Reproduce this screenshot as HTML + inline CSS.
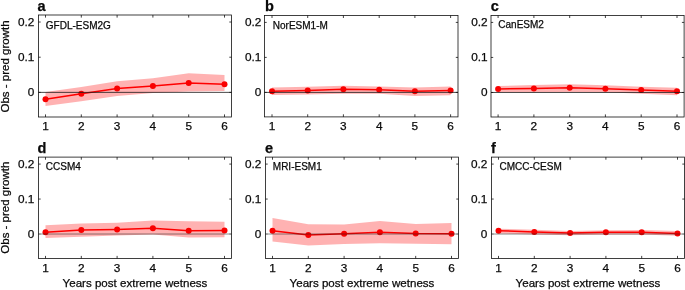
<!DOCTYPE html>
<html><head><meta charset="utf-8"><title>fig</title>
<style>html,body{margin:0;padding:0;background:#fff}body{width:685px;height:290px;overflow:hidden}svg{display:block}text{font-family:"Liberation Sans",sans-serif;fill:#0a0a0a;stroke:#0a0a0a;stroke-width:0.25px;filter:opacity(0.999)}</style></head><body>
<svg width="685" height="290" viewBox="0 0 685 290">
<rect width="685" height="290" fill="#fff"/>
<polygon points="45.5,92.1 81.3,86.9 117.1,81.3 152.9,78.2 188.7,73.3 224.5,75.1 224.5,91.1 188.7,91.6 152.9,93.0 117.1,95.9 81.3,101.3 45.5,106.0" fill="#ff0000" fill-opacity="0.3"/>
<polyline points="45.5,99.3 81.3,93.7 117.1,88.4 152.9,85.9 188.7,83.0 224.5,84.2" fill="none" stroke="#ff0000" stroke-width="1.5" stroke-linejoin="round"/>
<circle cx="45.5" cy="99.3" r="3.0" fill="#f90000"/>
<circle cx="81.3" cy="93.7" r="3.0" fill="#f90000"/>
<circle cx="117.1" cy="88.4" r="3.0" fill="#f90000"/>
<circle cx="152.9" cy="85.9" r="3.0" fill="#f90000"/>
<circle cx="188.7" cy="83.0" r="3.0" fill="#f90000"/>
<circle cx="224.5" cy="84.2" r="3.0" fill="#f90000"/>
<line x1="38.5" y1="92.38" x2="231.5" y2="92.38" stroke="#1a1a1a" stroke-width="0.8"/>
<rect x="38.5" y="15.0" width="193.0" height="102.0" fill="none" stroke="#111" stroke-width="0.8"/>
<path d="M45.5 117.0v-2.6M45.5 15.0v2.6M81.3 117.0v-2.6M81.3 15.0v2.6M117.1 117.0v-2.6M117.1 15.0v2.6M152.9 117.0v-2.6M152.9 15.0v2.6M188.7 117.0v-2.6M188.7 15.0v2.6M224.5 117.0v-2.6M224.5 15.0v2.6M38.5 92.38h2.2M231.5 92.38h-2.2M38.5 57.21h2.2M231.5 57.21h-2.2M38.5 22.03h2.2M231.5 22.03h-2.2" stroke="#111" stroke-width="0.8" fill="none"/>
<text x="45.5" y="130.2" font-size="11.8" text-anchor="middle">1</text>
<text x="81.3" y="130.2" font-size="11.8" text-anchor="middle">2</text>
<text x="117.1" y="130.2" font-size="11.8" text-anchor="middle">3</text>
<text x="152.9" y="130.2" font-size="11.8" text-anchor="middle">4</text>
<text x="188.7" y="130.2" font-size="11.8" text-anchor="middle">5</text>
<text x="224.5" y="130.2" font-size="11.8" text-anchor="middle">6</text>
<text x="34.3" y="96.2" font-size="11.8" text-anchor="end">0</text>
<text x="34.3" y="61.0" font-size="11.8" text-anchor="end">0.1</text>
<text x="34.3" y="25.8" font-size="11.8" text-anchor="end">0.2</text>
<text x="37.6" y="10.8" font-size="14.5" font-weight="bold" fill="#000" stroke="#000" stroke-width="0.3">a</text>
<text x="45.8" y="28.6" font-size="10">GFDL-ESM2G</text>
<text transform="translate(9.3 66.5) rotate(-90)" font-size="11.5" text-anchor="middle">Obs - pred growth</text>
<polygon points="272.0,87.5 307.7,86.8 343.4,85.8 379.2,86.4 414.9,87.5 450.6,86.5 450.6,95.2 414.9,95.9 379.2,93.8 343.4,93.8 307.7,94.5 272.0,94.9" fill="#ff0000" fill-opacity="0.3"/>
<polyline points="272.0,91.2 307.7,90.4 343.4,89.3 379.2,89.7 414.9,91.3 450.6,90.6" fill="none" stroke="#ff0000" stroke-width="1.5" stroke-linejoin="round"/>
<circle cx="272.0" cy="91.2" r="3.0" fill="#f90000"/>
<circle cx="307.7" cy="90.4" r="3.0" fill="#f90000"/>
<circle cx="343.4" cy="89.3" r="3.0" fill="#f90000"/>
<circle cx="379.2" cy="89.7" r="3.0" fill="#f90000"/>
<circle cx="414.9" cy="91.3" r="3.0" fill="#f90000"/>
<circle cx="450.6" cy="90.6" r="3.0" fill="#f90000"/>
<line x1="264.5" y1="92.40" x2="458.0" y2="92.40" stroke="#1a1a1a" stroke-width="0.8"/>
<rect x="264.5" y="15.4" width="193.5" height="101.5" fill="none" stroke="#111" stroke-width="0.8"/>
<path d="M272.0 116.9v-2.6M272.0 15.4v2.6M307.7 116.9v-2.6M307.7 15.4v2.6M343.4 116.9v-2.6M343.4 15.4v2.6M379.2 116.9v-2.6M379.2 15.4v2.6M414.9 116.9v-2.6M414.9 15.4v2.6M450.6 116.9v-2.6M450.6 15.4v2.6M264.5 92.40h2.2M458.0 92.40h-2.2M264.5 57.40h2.2M458.0 57.40h-2.2M264.5 22.40h2.2M458.0 22.40h-2.2" stroke="#111" stroke-width="0.8" fill="none"/>
<text x="272.0" y="130.1" font-size="11.8" text-anchor="middle">1</text>
<text x="307.7" y="130.1" font-size="11.8" text-anchor="middle">2</text>
<text x="343.4" y="130.1" font-size="11.8" text-anchor="middle">3</text>
<text x="379.2" y="130.1" font-size="11.8" text-anchor="middle">4</text>
<text x="414.9" y="130.1" font-size="11.8" text-anchor="middle">5</text>
<text x="450.6" y="130.1" font-size="11.8" text-anchor="middle">6</text>
<text x="261.4" y="96.2" font-size="11.8" text-anchor="end">0</text>
<text x="261.4" y="61.2" font-size="11.8" text-anchor="end">0.1</text>
<text x="261.4" y="26.2" font-size="11.8" text-anchor="end">0.2</text>
<text x="264.9" y="10.6" font-size="14.5" font-weight="bold" fill="#000" stroke="#000" stroke-width="0.3">b</text>
<text x="272.8" y="29.2" font-size="10">NorESM1-M</text>
<polygon points="498.1,86.1 533.9,84.9 569.7,84.2 605.4,85.3 641.2,86.8 677.0,87.8 677.0,95.2 641.2,93.8 605.4,92.3 569.7,92.0 533.9,92.3 498.1,92.3" fill="#ff0000" fill-opacity="0.3"/>
<polyline points="498.1,89.0 533.9,88.4 569.7,87.8 605.4,88.7 641.2,90.0 677.0,91.2" fill="none" stroke="#ff0000" stroke-width="1.5" stroke-linejoin="round"/>
<circle cx="498.1" cy="89.0" r="3.0" fill="#f90000"/>
<circle cx="533.9" cy="88.4" r="3.0" fill="#f90000"/>
<circle cx="569.7" cy="87.8" r="3.0" fill="#f90000"/>
<circle cx="605.4" cy="88.7" r="3.0" fill="#f90000"/>
<circle cx="641.2" cy="90.0" r="3.0" fill="#f90000"/>
<circle cx="677.0" cy="91.2" r="3.0" fill="#f90000"/>
<line x1="491.0" y1="92.48" x2="684.1" y2="92.48" stroke="#1a1a1a" stroke-width="0.8"/>
<rect x="491.0" y="15.4" width="193.1" height="101.6" fill="none" stroke="#111" stroke-width="0.8"/>
<path d="M498.1 117.0v-2.6M498.1 15.4v2.6M533.9 117.0v-2.6M533.9 15.4v2.6M569.7 117.0v-2.6M569.7 15.4v2.6M605.4 117.0v-2.6M605.4 15.4v2.6M641.2 117.0v-2.6M641.2 15.4v2.6M677.0 117.0v-2.6M677.0 15.4v2.6M491.0 92.48h2.2M684.1 92.48h-2.2M491.0 57.44h2.2M684.1 57.44h-2.2M491.0 22.41h2.2M684.1 22.41h-2.2" stroke="#111" stroke-width="0.8" fill="none"/>
<text x="498.1" y="130.2" font-size="11.8" text-anchor="middle">1</text>
<text x="533.9" y="130.2" font-size="11.8" text-anchor="middle">2</text>
<text x="569.7" y="130.2" font-size="11.8" text-anchor="middle">3</text>
<text x="605.4" y="130.2" font-size="11.8" text-anchor="middle">4</text>
<text x="641.2" y="130.2" font-size="11.8" text-anchor="middle">5</text>
<text x="677.0" y="130.2" font-size="11.8" text-anchor="middle">6</text>
<text x="487.6" y="96.3" font-size="11.8" text-anchor="end">0</text>
<text x="487.6" y="61.2" font-size="11.8" text-anchor="end">0.1</text>
<text x="487.6" y="26.2" font-size="11.8" text-anchor="end">0.2</text>
<text x="490.8" y="10.9" font-size="14.5" font-weight="bold" fill="#000" stroke="#000" stroke-width="0.3">c</text>
<text x="498.3" y="28.2" font-size="10">CanESM2</text>
<polygon points="45.5,225.3 81.3,223.6 117.1,222.7 152.9,220.5 188.7,221.2 224.5,221.7 224.5,237.3 188.7,237.5 152.9,234.5 117.1,235.5 81.3,236.7 45.5,238.1" fill="#ff0000" fill-opacity="0.3"/>
<polyline points="45.5,232.3 81.3,230.0 117.1,229.4 152.9,228.2 188.7,230.7 224.5,230.6" fill="none" stroke="#ff0000" stroke-width="1.5" stroke-linejoin="round"/>
<circle cx="45.5" cy="232.3" r="3.0" fill="#f90000"/>
<circle cx="81.3" cy="230.0" r="3.0" fill="#f90000"/>
<circle cx="117.1" cy="229.4" r="3.0" fill="#f90000"/>
<circle cx="152.9" cy="228.2" r="3.0" fill="#f90000"/>
<circle cx="188.7" cy="230.7" r="3.0" fill="#f90000"/>
<circle cx="224.5" cy="230.6" r="3.0" fill="#f90000"/>
<line x1="38.5" y1="234.02" x2="231.5" y2="234.02" stroke="#1a1a1a" stroke-width="0.5"/>
<rect x="38.5" y="157.1" width="193.0" height="101.4" fill="none" stroke="#111" stroke-width="0.8"/>
<path d="M38.5 234.02h2.2M231.5 234.02h-2.2" stroke="#111" stroke-width="0.4" fill="none"/>
<path d="M45.5 258.5v-2.6M45.5 157.1v2.6M81.3 258.5v-2.6M81.3 157.1v2.6M117.1 258.5v-2.6M117.1 157.1v2.6M152.9 258.5v-2.6M152.9 157.1v2.6M188.7 258.5v-2.6M188.7 157.1v2.6M224.5 258.5v-2.6M224.5 157.1v2.6M38.5 199.06h2.2M231.5 199.06h-2.2M38.5 164.09h2.2M231.5 164.09h-2.2" stroke="#111" stroke-width="0.8" fill="none"/>
<text x="45.5" y="271.7" font-size="11.8" text-anchor="middle">1</text>
<text x="81.3" y="271.7" font-size="11.8" text-anchor="middle">2</text>
<text x="117.1" y="271.7" font-size="11.8" text-anchor="middle">3</text>
<text x="152.9" y="271.7" font-size="11.8" text-anchor="middle">4</text>
<text x="188.7" y="271.7" font-size="11.8" text-anchor="middle">5</text>
<text x="224.5" y="271.7" font-size="11.8" text-anchor="middle">6</text>
<text x="34.3" y="237.8" font-size="11.8" text-anchor="end">0</text>
<text x="34.3" y="202.9" font-size="11.8" text-anchor="end">0.1</text>
<text x="34.3" y="167.9" font-size="11.8" text-anchor="end">0.2</text>
<text x="37.5" y="153.1" font-size="14.5" font-weight="bold" fill="#000" stroke="#000" stroke-width="0.3">d</text>
<text x="45.8" y="169.5" font-size="10">CCSM4</text>
<text x="135.0" y="287.3" font-size="11.57" text-anchor="middle">Years post extreme wetness</text>
<text transform="translate(9.3 207.7) rotate(-90)" font-size="11.5" text-anchor="middle">Obs - pred growth</text>
<polygon points="272.5,218.0 308.3,224.2 344.1,224.6 379.9,220.9 415.7,223.9 451.5,223.1 451.5,244.3 415.7,243.7 379.9,243.2 344.1,244.0 308.3,245.4 272.5,241.5" fill="#ff0000" fill-opacity="0.3"/>
<polyline points="272.5,230.7 308.3,235.1 344.1,233.8 379.9,232.2 415.7,233.4 451.5,233.8" fill="none" stroke="#ff0000" stroke-width="1.5" stroke-linejoin="round"/>
<circle cx="272.5" cy="230.7" r="3.0" fill="#f90000"/>
<circle cx="308.3" cy="235.1" r="3.0" fill="#f90000"/>
<circle cx="344.1" cy="233.8" r="3.0" fill="#f90000"/>
<circle cx="379.9" cy="232.2" r="3.0" fill="#f90000"/>
<circle cx="415.7" cy="233.4" r="3.0" fill="#f90000"/>
<circle cx="451.5" cy="233.8" r="3.0" fill="#f90000"/>
<line x1="265.5" y1="234.02" x2="458.5" y2="234.02" stroke="#1a1a1a" stroke-width="0.5"/>
<rect x="265.5" y="157.1" width="193.0" height="101.4" fill="none" stroke="#111" stroke-width="0.8"/>
<path d="M265.5 234.02h2.2M458.5 234.02h-2.2" stroke="#111" stroke-width="0.4" fill="none"/>
<path d="M272.5 258.5v-2.6M272.5 157.1v2.6M308.3 258.5v-2.6M308.3 157.1v2.6M344.1 258.5v-2.6M344.1 157.1v2.6M379.9 258.5v-2.6M379.9 157.1v2.6M415.7 258.5v-2.6M415.7 157.1v2.6M451.5 258.5v-2.6M451.5 157.1v2.6M265.5 199.06h2.2M458.5 199.06h-2.2M265.5 164.09h2.2M458.5 164.09h-2.2" stroke="#111" stroke-width="0.8" fill="none"/>
<text x="272.5" y="271.7" font-size="11.8" text-anchor="middle">1</text>
<text x="308.3" y="271.7" font-size="11.8" text-anchor="middle">2</text>
<text x="344.1" y="271.7" font-size="11.8" text-anchor="middle">3</text>
<text x="379.9" y="271.7" font-size="11.8" text-anchor="middle">4</text>
<text x="415.7" y="271.7" font-size="11.8" text-anchor="middle">5</text>
<text x="451.5" y="271.7" font-size="11.8" text-anchor="middle">6</text>
<text x="261.3" y="237.8" font-size="11.8" text-anchor="end">0</text>
<text x="261.3" y="202.9" font-size="11.8" text-anchor="end">0.1</text>
<text x="261.3" y="167.9" font-size="11.8" text-anchor="end">0.2</text>
<text x="265.0" y="152.95" font-size="14.5" font-weight="bold" fill="#000" stroke="#000" stroke-width="0.3">e</text>
<text x="272.8" y="169.5" font-size="10">MRI-ESM1</text>
<text x="362.0" y="287.3" font-size="11.57" text-anchor="middle">Years post extreme wetness</text>
<polygon points="498.5,228.7 534.3,229.7 570.1,230.9 605.9,230.3 641.7,230.0 677.5,231.0 677.5,235.7 641.7,234.6 605.9,234.5 570.1,235.2 534.3,234.5 498.5,233.5" fill="#ff0000" fill-opacity="0.3"/>
<polyline points="498.5,230.7 534.3,231.9 570.1,232.9 605.9,232.2 641.7,232.2 677.5,233.5" fill="none" stroke="#ff0000" stroke-width="1.5" stroke-linejoin="round"/>
<circle cx="498.5" cy="230.7" r="3.0" fill="#f90000"/>
<circle cx="534.3" cy="231.9" r="3.0" fill="#f90000"/>
<circle cx="570.1" cy="232.9" r="3.0" fill="#f90000"/>
<circle cx="605.9" cy="232.2" r="3.0" fill="#f90000"/>
<circle cx="641.7" cy="232.2" r="3.0" fill="#f90000"/>
<circle cx="677.5" cy="233.5" r="3.0" fill="#f90000"/>
<line x1="491.5" y1="234.02" x2="684.5" y2="234.02" stroke="#1a1a1a" stroke-width="0.5"/>
<rect x="491.5" y="157.1" width="193.0" height="101.4" fill="none" stroke="#111" stroke-width="0.8"/>
<path d="M491.5 234.02h2.2M684.5 234.02h-2.2" stroke="#111" stroke-width="0.4" fill="none"/>
<path d="M498.5 258.5v-2.6M498.5 157.1v2.6M534.3 258.5v-2.6M534.3 157.1v2.6M570.1 258.5v-2.6M570.1 157.1v2.6M605.9 258.5v-2.6M605.9 157.1v2.6M641.7 258.5v-2.6M641.7 157.1v2.6M677.5 258.5v-2.6M677.5 157.1v2.6M491.5 199.06h2.2M684.5 199.06h-2.2M491.5 164.09h2.2M684.5 164.09h-2.2" stroke="#111" stroke-width="0.8" fill="none"/>
<text x="498.5" y="271.7" font-size="11.8" text-anchor="middle">1</text>
<text x="534.3" y="271.7" font-size="11.8" text-anchor="middle">2</text>
<text x="570.1" y="271.7" font-size="11.8" text-anchor="middle">3</text>
<text x="605.9" y="271.7" font-size="11.8" text-anchor="middle">4</text>
<text x="641.7" y="271.7" font-size="11.8" text-anchor="middle">5</text>
<text x="677.5" y="271.7" font-size="11.8" text-anchor="middle">6</text>
<text x="487.3" y="237.8" font-size="11.8" text-anchor="end">0</text>
<text x="487.3" y="202.9" font-size="11.8" text-anchor="end">0.1</text>
<text x="487.3" y="167.9" font-size="11.8" text-anchor="end">0.2</text>
<text x="490.9" y="153.2" font-size="14.5" font-weight="bold" fill="#000" stroke="#000" stroke-width="0.3">f</text>
<text x="499.5" y="169.5" font-size="10">CMCC-CESM</text>
<text x="588.0" y="287.3" font-size="11.57" text-anchor="middle">Years post extreme wetness</text>
</svg></body></html>
